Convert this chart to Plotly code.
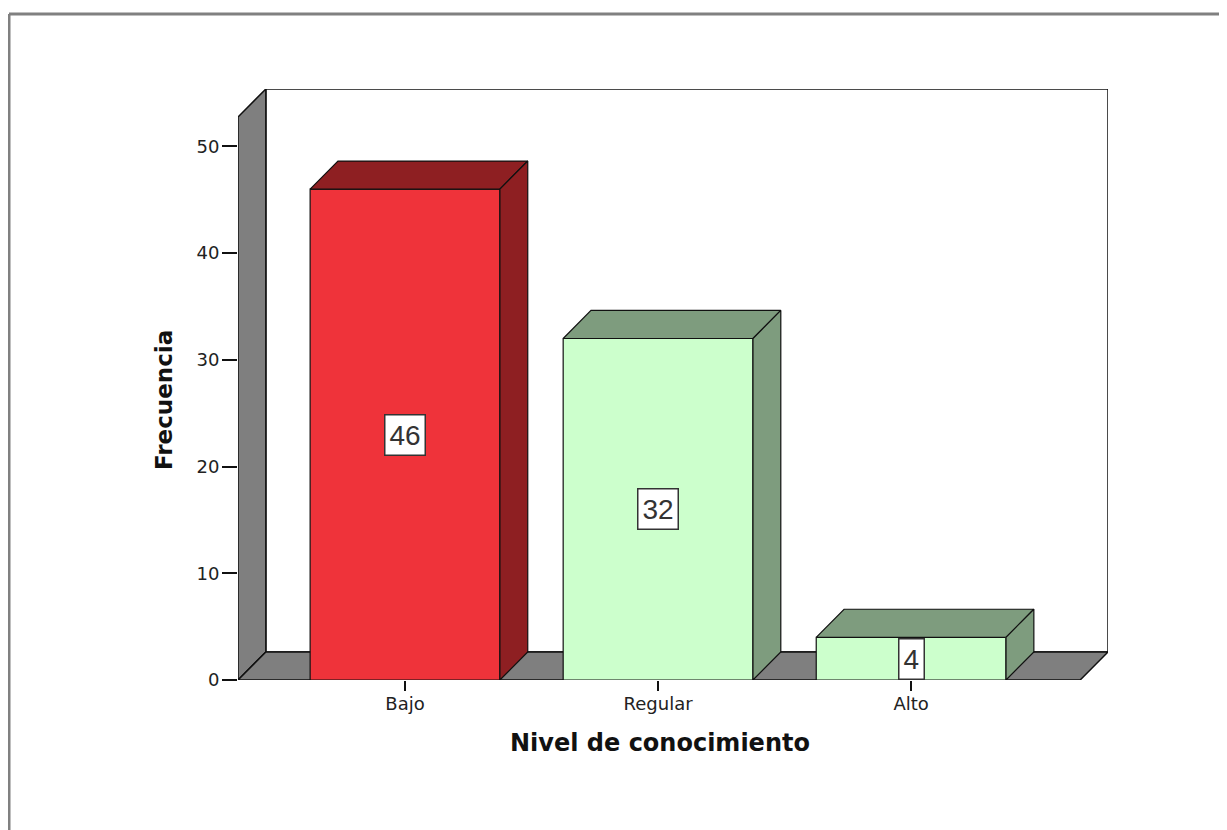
import plotly.graph_objects as go

categories = ["Bajo", "Regular", "Alto"]
values = [46, 32, 4]
front_colors = ["#EF333A", "#CCFFCC", "#CCFFCC"]
side_colors = ["#8E1F22", "#7E9C7E", "#7E9C7E"]
y_ticks = [0, 10, 20, 30, 40, 50]

# geometry (data units)
bar_w = 0.75
dx = 0.11
dy = 2.63
x_front_lo = -0.66
x_front_hi = 2.668
y_front_top = 52.75
y_max = y_front_top + dy
x_max = x_front_hi + dx

fig = go.Figure()

# front faces of bars
fig.add_trace(go.Bar(
    x=list(range(len(categories))), y=values, width=bar_w,
    marker=dict(color=front_colors, line=dict(color="#111111", width=1.2)),
    hoverinfo="skip", showlegend=False,
))

# top and side faces
for i, v in enumerate(values):
    xl = i - bar_w / 2
    xr = i + bar_w / 2
    top_x = [xl, xl + dx, xr + dx, xr, xl]
    top_y = [v, v + dy, v + dy, v, v]
    side_x = [xr, xr, xr + dx, xr + dx, xr]
    side_y = [0, v, v + dy, dy, 0]
    for px, py in ((top_x, top_y), (side_x, side_y)):
        fig.add_trace(go.Scatter(
            x=px, y=py, mode="lines", fill="toself",
            fillcolor=side_colors[i], line=dict(color="#111111", width=1.2),
            hoverinfo="skip", showlegend=False,
        ))

shapes = []
# back wall
shapes.append(dict(type="path", xref="x", yref="y", layer="below",
                   path=f"M {x_front_lo+dx},{dy} L {x_front_lo+dx},{y_max} L {x_max},{y_max} L {x_max},{dy} Z",
                   fillcolor="white", line=dict(color="#111111", width=1.5)))
# left wall
shapes.append(dict(type="path", xref="x", yref="y", layer="below",
                   path=f"M {x_front_lo},0 L {x_front_lo},{y_front_top} L {x_front_lo+dx},{y_max} L {x_front_lo+dx},{dy} Z",
                   fillcolor="#7F7F7F", line=dict(color="#111111", width=1.5)))
# floor
shapes.append(dict(type="path", xref="x", yref="y", layer="below",
                   path=f"M {x_front_lo},0 L {x_front_hi},0 L {x_max},{dy} L {x_front_lo+dx},{dy} Z",
                   fillcolor="#7F7F7F", line=dict(color="#111111", width=1.5)))

# page offset (browser body margin)
OFF = 8
W, H = 1227 - OFF, 830 - OFF
L, T = 238 - OFF, 89 - OFF
R = W - (1108 - OFF)
B = H - (680 - OFF)
pw, ph = W - L - R, H - T - B
def px2x(p): return (p - OFF - L) / pw
def py2y(p): return (H - B - (p - OFF)) / ph

# outer frame (top + left)
shapes.append(dict(type="line", xref="paper", yref="paper",
                   x0=px2x(9), x1=px2x(1240), y0=py2y(14), y1=py2y(14),
                   line=dict(color="#808080", width=3)))
shapes.append(dict(type="line", xref="paper", yref="paper",
                   x0=px2x(9), x1=px2x(9), y0=py2y(14), y1=py2y(840),
                   line=dict(color="#808080", width=3)))

annotations = []
for i, v in enumerate(values):
    annotations.append(dict(
        x=i, y=v / 2, xref="x", yref="y", text=str(v), showarrow=False,
        xanchor="center", yanchor="middle",
        font=dict(family="Liberation Sans, Arial", size=28, color="#333333"),
        bgcolor="white", bordercolor="#333333", borderwidth=1.5, borderpad=4,
    ))
annotations.append(dict(
    x=px2x(164), y=py2y(400), xref="paper", yref="paper", text="Frecuencia",
    textangle=-90, showarrow=False, xanchor="center", yanchor="middle",
    font=dict(family="DejaVu Sans", size=23, color="#111111", weight="bold"),
))
annotations.append(dict(
    x=px2x(660), y=py2y(743), xref="paper", yref="paper", text="Nivel de conocimiento",
    showarrow=False, xanchor="center", yanchor="middle",
    font=dict(family="DejaVu Sans", size=24, color="#111111", weight="bold"),
))

fig.update_layout(
    width=W, height=H,
    margin=dict(l=L, r=R, t=T, b=B, autoexpand=False),
    paper_bgcolor="white", plot_bgcolor="white",
    shapes=shapes, annotations=annotations,
    showlegend=False, hovermode=False,
    xaxis=dict(range=[x_front_lo, x_max], tickvals=list(range(len(categories))),
               ticktext=categories, ticks="outside", ticklen=10, tickcolor="#111111",
               tickwidth=1.5, showgrid=False, zeroline=False, showline=False,
               ticklabelstandoff=-3,
               tickfont=dict(family="DejaVu Sans", size=18, color="#222222")),
    yaxis=dict(range=[0, y_max], tickvals=y_ticks, ticks="outside", ticklen=15,
               tickcolor="#111111", tickwidth=1.5, showgrid=False, zeroline=False,
               showline=False, ticklabelstandoff=-1,
               tickfont=dict(family="DejaVu Sans", size=18, color="#222222")),
)

fig.write_html("out.html")
